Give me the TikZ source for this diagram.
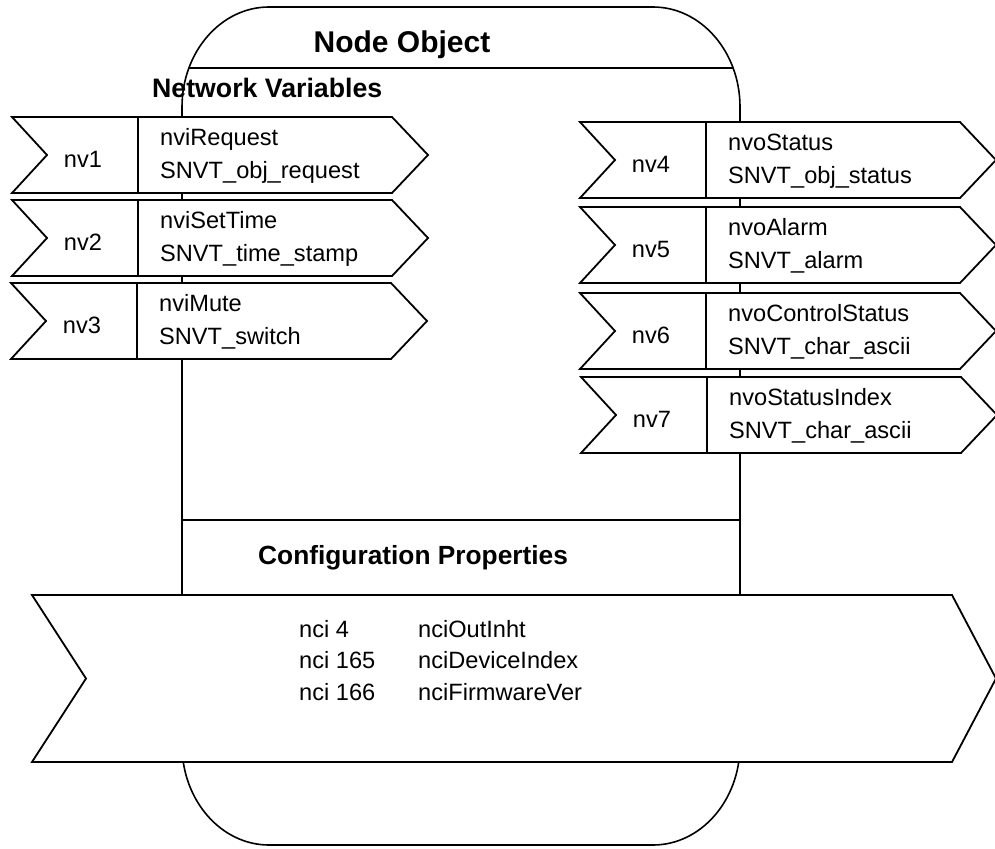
\documentclass[tikz,border=0pt]{standalone}
\usepackage{fontspec}
\setmainfont{Liberation Sans}
\tikzset{
  box/.style={line width=1.8pt, line join=miter, fill=white},
  divider/.style={line width=1.3pt},
  frame/.style={line width=1.6pt},
  lbl/.style={font=\fontsize{23.6}{27}\selectfont, inner sep=0pt, anchor=base},
  fld/.style={font=\fontsize{23.6}{27}\selectfont, inner sep=0pt, anchor=base west},
}
\newcommand\nvchev[6]{%
  \draw[box] (#1,#2) -- (#1+380,#2) -- (#1+416,#2+38) -- (#1+380,#2+76) -- (#1,#2+76) -- (#1+35,#2+38) -- cycle;
  \draw[divider] (#1+126,#2) -- (#1+126,#2+76);
  \node[lbl] (#3) at (#1+71,#2+50) {#4};
  \node[fld] (#3a) at (#1+148,#2+28) {#5};
  \node[fld] (#3b) at (#1+148,#2+61) {#6};
}
\begin{document}
\begin{tikzpicture}[x=1pt,y=-1pt]
\useasboundingbox (0,0) rectangle (995,848);
% node object frame
\draw[frame] (182,107) .. controls (182,51.8) and (221,7) .. (269,7) -- (653,7)
  .. controls (701,7) and (740,51.8) .. (740,107) -- (740,745)
  .. controls (740,800.2) and (701,845) .. (653,845) -- (269,845)
  .. controls (221,845) and (182,800.2) .. (182,745) -- cycle;
\draw[frame] (189,68) -- (733,68);
\draw[frame] (182,520) -- (740,520);
\node[inner sep=0pt, anchor=base, font=\fontsize{30}{34}\selectfont\bfseries] (title) at (402,53) {Node Object};
\node[inner sep=0pt, anchor=base west, font=\fontsize{26.7}{30}\selectfont\bfseries] (nvhead) at (152,98) {Network Variables};
\node[inner sep=0pt, anchor=base west, font=\fontsize{26.3}{30}\selectfont\bfseries] (cphead) at (258,564) {Configuration Properties};
% input network variables
\nvchev{12}{117}{nv1}{nv1}{nviRequest}{SNVT\_obj\_request}
\nvchev{12}{200}{nv2}{nv2}{nviSetTime}{SNVT\_time\_stamp}
\nvchev{11}{283}{nv3}{nv3}{nviMute}{SNVT\_switch}
% output network variables
\nvchev{580}{122}{nv4}{nv4}{nvoStatus}{SNVT\_obj\_status}
\nvchev{580}{207}{nv5}{nv5}{nvoAlarm}{SNVT\_alarm}
\nvchev{580}{293}{nv6}{nv6}{nvoControlStatus}{SNVT\_char\_ascii}
\nvchev{581}{377}{nv7}{nv7}{nvoStatusIndex}{SNVT\_char\_ascii}
% configuration properties
\draw[box] (32,595) -- (952,595) -- (996,678.5) -- (952,762) -- (32,762) -- (86,678.5) -- cycle;
\node[fld] (c1a) at (299,637) {nci 4};
\node[fld] (c1b) at (418,637) {nciOutInht};
\node[fld] (c2a) at (299,668.5) {nci 165};
\node[fld] (c2b) at (418,668.5) {nciDeviceIndex};
\node[fld] (c3a) at (299,700) {nci 166};
\node[fld] (c3b) at (418,700) {nciFirmwareVer};
\end{tikzpicture}
\end{document}
